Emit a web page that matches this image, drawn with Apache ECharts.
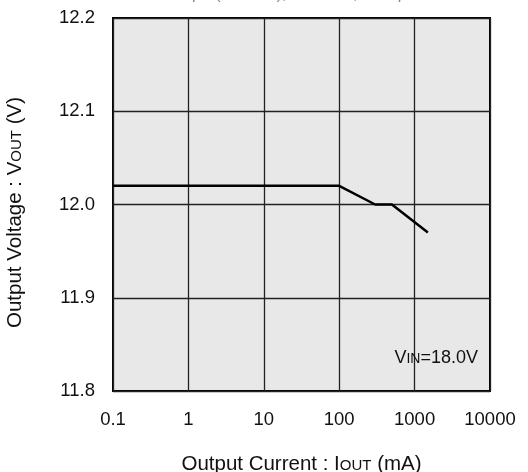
<!DOCTYPE html>
<html><head><meta charset="utf-8">
<script src="https://cdn.jsdelivr.net/npm/echarts@6/dist/echarts.min.js"></script>
<style>html,body{margin:0;padding:0;background:#fff}#c{width:528px;height:472px}</style>
</head><body><div id="c"></div>
<script>
var currents = [0.1, 100, 300, 500, 1500];
var voltages = [12.02, 12.02, 12.00, 12.00, 11.97];
var xTicks = [0.1, 1, 10, 100, 1000, 10000];
var yTicks = [11.8, 11.9, 12.0, 12.1, 12.2];
var noteText = 'V{s|IN}=18.0V';
var topText = 'COUT=4.7μF (ceramic), Ta=25°C, L=10μH';

var font = '"Liberation Sans", Arial, sans-serif';
var chart = echarts.init(document.getElementById('c'));
chart.setOption({
  animation: false,
  backgroundColor: '#fff',
  grid: {left: 113, top: 18, width: 377, height: 373, show: true, outerBoundsMode: 'none', containLabel: false,
         backgroundColor: '#e8e8e8', borderColor: '#000', borderWidth: 2},
  xAxis: {
    type: 'log', logBase: 10, min: xTicks[0], max: xTicks[xTicks.length-1],
    axisLine: {show: false}, axisTick: {show: false},
    splitLine: {show: true, lineStyle: {color: '#222', width: 1.3}},
    axisLabel: {color: '#111', fontFamily: font, fontSize: 18.5, margin: 19,
      formatter: function(v){ return String(v); }},
    name: 'Output Current : I{s|OUT} (mA)', nameLocation: 'middle', nameGap: 63,
    nameTextStyle: {color: '#111', fontFamily: font, fontSize: 20.5,
      rich: {s: {fontSize: 15, fontFamily: font, color: '#111', padding: [3,0,0,0]}}}
  },
  yAxis: {
    type: 'value', min: yTicks[0], max: yTicks[yTicks.length-1], interval: 0.1,
    axisLine: {show: false}, axisTick: {show: false},
    splitLine: {show: true, lineStyle: {color: '#222', width: 1.3}},
    axisLabel: {color: '#111', fontFamily: font, fontSize: 18.5, margin: 18,
      formatter: function(v){ return v.toFixed(1); }},
    name: 'Output Voltage : V{s|OUT} (V)', nameLocation: 'middle', nameGap: 87, nameRotate: 90,
    nameTextStyle: {color: '#111', fontFamily: font, fontSize: 20.5, padding: [0, 16, 0, 0],
      rich: {s: {fontSize: 15, fontFamily: font, color: '#111', padding: [3,0,0,0]}}}
  },
  graphic: [
    {type: 'text', right: 50, top: 349, z: 10,
     style: {text: noteText, fontFamily: font, fontSize: 18, fill: '#111',
       rich: {s: {fontSize: 14, fontFamily: font, fill: '#111', padding: [2,0,0,0]}}}},
    {type: 'text', left: 115, top: -13,
     style: {text: topText, fontFamily: font, fontSize: 16, fill: '#888'}}
  ],
  series: [{
    type: 'line', data: currents.map(function(c,i){ return [c, voltages[i]]; }),
    showSymbol: false, lineStyle: {color: '#000', width: 2.5}
  }]
});
</script></body></html>
